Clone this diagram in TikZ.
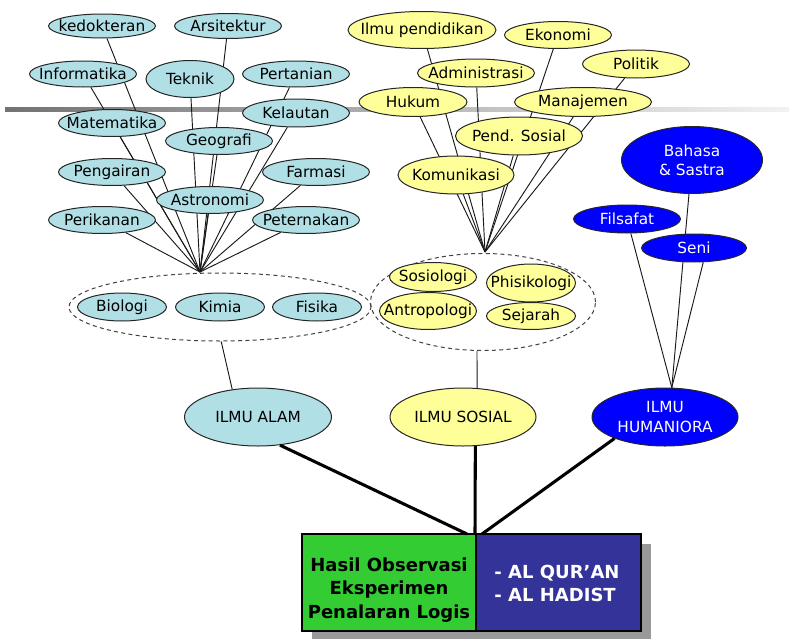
\documentclass[tikz,border=0pt]{standalone}
\usepackage{fontspec}
\setmainfont{DejaVu Sans}
\usetikzlibrary{shapes.geometric,backgrounds}

\definecolor{alamfill}{RGB}{176,224,230}
\definecolor{sosfill}{RGB}{255,255,153}
\definecolor{humfill}{RGB}{0,0,255}
\definecolor{obsfill}{RGB}{51,204,51}
\definecolor{wahyufill}{RGB}{51,51,153}

\tikzset{
  bidang/.style 2 args={ellipse, draw=black!85, line width=0.75pt,
    inner xsep=-8pt, inner ysep=-2.5pt, align=center,
    minimum width=#1*0.75pt, minimum height=#2*0.75pt,
    font=\fontsize{11.5}{14.5}\selectfont},
  alamnode/.style 2 args={bidang={#1}{#2}, fill=alamfill},
  sosnode/.style 2 args={bidang={#1}{#2}, fill=sosfill},
  humnode/.style 2 args={bidang={#1}{#2}, fill=humfill, text=white},
  grup/.style 2 args={ellipse, draw=black!75, dashed, dash pattern=on 3pt off 2.5pt,
    line width=0.75pt, inner sep=0pt, minimum width=#1*0.75pt, minimum height=#2*0.75pt},
  ranting/.style={draw=black!90, line width=0.7pt},
  batang/.style={draw=black, line width=2.3pt},
  kotak/.style={rectangle, draw=black, line width=0.8pt, inner sep=0pt,
    minimum height=97*0.75pt},
  kotaktext/.style={font=\bfseries\fontsize{13.5}{17.6}\selectfont, inner sep=0pt}
}

\begin{document}
\begin{tikzpicture}[x=0.75pt, y=-0.75pt]
  \useasboundingbox (0,0) rectangle (789,639);

  % ilmu alam
  \node[alamnode={107}{24}] (kedokteran) at (102,26) {kedokteran};
  \node[alamnode={107}{25}] (arsitektur) at (228,26) {Arsitektur};
  \node[alamnode={107}{26}] (informatika) at (83,74) {Informatika};
  \node[alamnode={88}{37}] (teknik) at (190,79) {Teknik};
  \node[alamnode={107}{26}] (pertanian) at (296,74) {Pertanian};
  \node[alamnode={107}{27}] (matematika) at (112,123) {Matematika};
  \node[alamnode={107}{28}] (kelautan) at (296,113) {Kelautan};
  \node[alamnode={107}{27}] (geografi) at (219,141) {Geografi};
  \node[alamnode={107}{27}] (pengairan) at (112,172) {Pengairan};
  \node[alamnode={107}{27}] (farmasi) at (316,172) {Farmasi};
  \node[alamnode={107}{27}] (astronomi) at (210,200) {Astronomi};
  \node[alamnode={107}{27}] (perikanan) at (102,220) {Perikanan};
  \node[alamnode={107}{27}] (peternakan) at (306,220) {Peternakan};
  \coordinate (alamtop) at (200,272);

  \node[grup={302}{68}] (alamgroup) at (220,307) {};
  \node[alamnode={89}{28}] (biologi) at (122,307) {Biologi};
  \node[alamnode={89}{28}] (kimia) at (220,307) {Kimia};
  \node[alamnode={89}{28}] (fisika) at (317,307) {Fisika};

  % ilmu sosial
  \node[sosnode={148}{37}] (ilmupend) at (422,30) {Ilmu pendidikan};
  \node[sosnode={107}{27}] (ekonomi) at (558,35) {Ekonomi};
  \node[sosnode={117}{28}] (administrasi) at (476,73) {Administrasi};
  \node[sosnode={107}{28}] (politik) at (636,64) {Politik};
  \node[sosnode={108}{29}] (hukum) at (413,102) {Hukum};
  \node[sosnode={137}{29}] (manajemen) at (583,102) {Manajemen};
  \node[sosnode={127}{38}] (pendsosial) at (519,136) {Pend. Sosial};
  \node[sosnode={116}{38}] (komunikasi) at (456,175) {Komunikasi};
  \coordinate (sostop) at (485,252);

  \node[grup={225}{97}] (sosgroup) at (483,302) {};
  \node[sosnode={87}{29}] (sosiologi) at (433,277) {Sosiologi};
  \node[sosnode={89}{38}] (phisikologi) at (531,283) {Phisikologi};
  \node[sosnode={97}{37}] (antropologi) at (428,311) {Antropologi};
  \node[sosnode={89}{27}] (sejarah) at (531,316) {Sejarah};

  % ilmu humaniora
  \node[humnode={141}{67}] (bahasa) at (692,160) {Bahasa\\\& Sastra};
  \node[humnode={107}{28}] (filsafat) at (627,219) {Filsafat};
  \node[humnode={105}{28}] (seni) at (694,248) {Seni};

  \node[alamnode={147}{58}] (alam) at (258,417) {ILMU ALAM};
  \node[sosnode={146}{58}] (sosial) at (463,417) {ILMU SOSIAL};
  \node[humnode={146}{58}] (hum) at (665,417) {ILMU\\HUMANIORA};

  % sumber
  \fill[black!40] (312,544) rectangle (651,639);
  \node[kotak, fill=obsfill, minimum width=174*0.75pt] (obs) at (389,582.5) {};
  \node[kotak, fill=wahyufill, minimum width=165*0.75pt] (wahyu) at (558.5,582.5) {};
  \node[kotaktext, align=center] (obstext) at (389,590) {Hasil Observasi\\Eksperimen\\Penalaran Logis};
  \node[kotaktext, align=left, text=white] (wahyutext) at (557,583.5) {- AL QUR’AN\\- AL HADIST};
  \coordinate (jL) at (467,534);
  \coordinate (jM) at (475,534);
  \coordinate (jR) at (482,534);

  \draw[batang] (alam.-52) -- (jL);
  \draw[batang] (sosial.-67) -- (jM);
  \draw[batang] (hum.-157) -- (jR);

  \begin{scope}[on background layer]
    \fill[left color=black!55, right color=black!5] (5,107) rectangle (789,111);
    \foreach \n in {kedokteran,arsitektur,informatika,teknik,pertanian,matematika,
      kelautan,geografi,pengairan,farmasi,astronomi,perikanan,peternakan}
      \draw[ranting] (\n) -- (alamtop);
    \foreach \n in {ilmupend,ekonomi,administrasi,politik,hukum,manajemen,
      pendsosial,komunikasi}
      \draw[ranting] (\n) -- (sostop);
    \draw[ranting] (filsafat) -- (hum.77);
    \draw[ranting] (bahasa) -- (hum.77);
    \draw[ranting] (seni.-57) -- (hum.77);
    \draw[ranting] (alamgroup.-88) -- (alam.133);
    \draw[ranting] (sosgroup.-97) -- (sosial.64);
  \end{scope}
\end{tikzpicture}
\end{document}
